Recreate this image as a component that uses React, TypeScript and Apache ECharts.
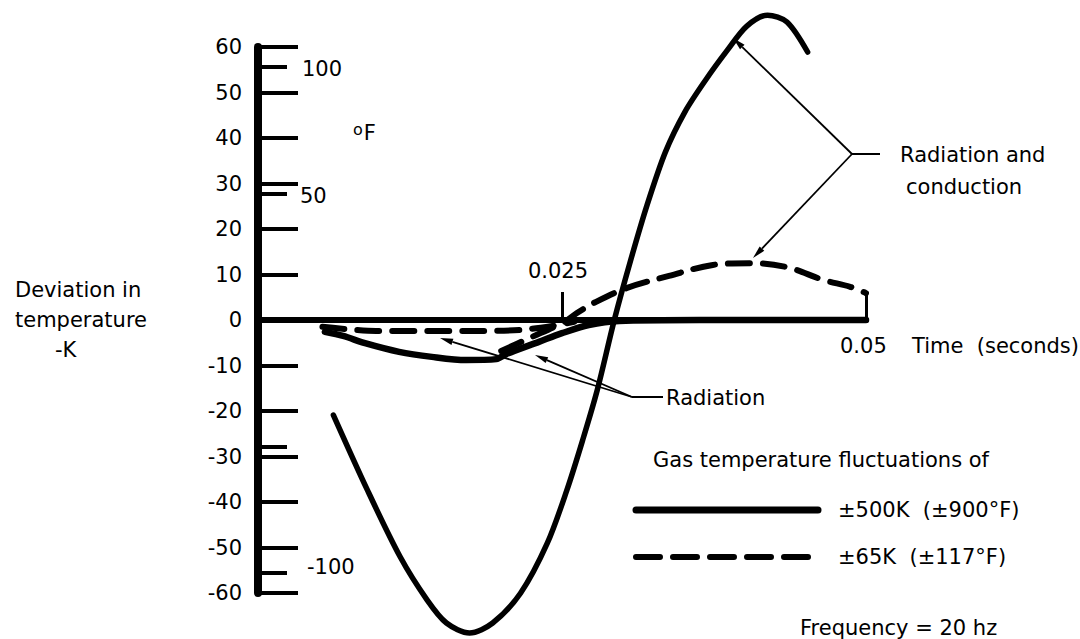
import React, { useEffect, useRef } from "react";
import * as echarts from "echarts";

const FONT = '"DejaVu Sans", "Liberation Sans", Arial, sans-serif';

// Axes
const timeMin = 0;
const timeMax = 0.05;
const timeStep = 0.025;
const kMin = -60;
const kMax = 60;
const kStep = 10;
const fMin = -108; // °F equivalent of -60 K deviation
const fMax = 108;
const fTickValues = [100, 50, -50, -100];

// ±500 K, radiation and conduction (solid)
const solidRadCondTime = [0.0062, 0.009, 0.0117, 0.0139, 0.0155, 0.0174, 0.0193, 0.0216, 0.0238, 0.0254, 0.0267, 0.0279, 0.0293, 0.0306, 0.032, 0.0335, 0.0351, 0.0368, 0.0386, 0.0402, 0.0419, 0.0435, 0.0452];
const solidRadCondK = [-20.9, -37.4, -52.1, -61.5, -66.6, -68.8, -66.6, -60.0, -49.0, -37.4, -26.4, -15.4, 0, 12.7, 25.3, 36.9, 45.7, 52.7, 59.3, 64.6, 67.0, 65.5, 58.9];

// ±500 K, radiation only (solid)
const solidRadTime = [0.0055, 0.007, 0.0088, 0.0116, 0.0143, 0.0171, 0.0196, 0.0204, 0.0231, 0.025, 0.0272, 0.0297, 0.0363, 0.0446, 0.05];
const solidRadK = [-2.6, -3.5, -5.1, -7.0, -8.1, -8.8, -8.6, -7.5, -4.8, -2.9, -1.1, -0.2, 0, 0, 0];

// ±65 K, radiation only (dashed)
const dashedRadTime = [0.0053, 0.0097, 0.014, 0.0182, 0.0215, 0.0242, 0.026];
const dashedRadK = [-1.5, -2.4, -2.4, -2.4, -2.2, -1.3, -0.4];

// ±65 K, radiation and conduction (dashed)
const dashedRadCondTime = [0.02, 0.0223, 0.0252, 0.0262, 0.0278, 0.0303, 0.0338, 0.0374, 0.0404, 0.0435, 0.0465, 0.0487, 0.05];
const dashedRadCondK = [-6.8, -4.0, -0.4, 1.5, 4.0, 7.0, 9.7, 12.1, 12.5, 11.6, 8.8, 7.3, 5.9];

const zip = (a: number[], b: number[]) => a.map((v, i) => [v, b[i]]);

function arrow(x1: number, y1: number, x2: number, y2: number) {
  const ang = Math.atan2(y2 - y1, x2 - x1);
  const len = 13;
  const hw = 3.2;
  const bx = x2 - len * Math.cos(ang);
  const by = y2 - len * Math.sin(ang);
  const px = -Math.sin(ang) * hw;
  const py = Math.cos(ang) * hw;
  return [
    { type: "line", shape: { x1, y1, x2: bx, y2: by }, style: { stroke: "#000", lineWidth: 1.8 } },
    { type: "polygon", shape: { points: [[x2, y2], [bx + px, by + py], [bx - px, by - py]] }, style: { fill: "#000" } },
  ];
}

function txt(text: string, x: number, y: number, size = 21, align = "left") {
  return {
    type: "text",
    x,
    y,
    style: { text, fill: "#000", font: `${size}px ${FONT}`, textAlign: align, textVerticalAlign: "middle" },
  };
}

export default function App() {
  const ref = useRef<HTMLDivElement>(null);
  useEffect(() => {
    document.body.style.margin = "0";
    const chart = echarts.init(ref.current!, null, { renderer: "svg" });
    const solidLine = { color: "#000", width: 5.5, cap: "round", join: "round" };
    const dashedLine = { color: "#000", width: 6, type: [22, 13], cap: "round", join: "round" };
    chart.setOption({
      animation: false,
      backgroundColor: "#fff",
      grid: { left: 258, top: 47, width: 608, height: 546 },
      xAxis: {
        type: "value",
        min: timeMin,
        max: timeMax,
        interval: timeStep,
        axisLine: { onZero: true, lineStyle: { color: "#000", width: 6 } },
        axisTick: { show: true, inside: true, length: 28, lineStyle: { color: "#000", width: 3 } },
        axisLabel: { show: false },
        splitLine: { show: false },
      },
      yAxis: [
        {
          type: "value",
          min: kMin,
          max: kMax,
          interval: kStep,
          position: "left",
          axisLine: { show: true, onZero: false, lineStyle: { color: "#000", width: 8 } },
          axisTick: { show: true, inside: true, length: 40, lineStyle: { color: "#000", width: 4 } },
          axisLabel: { color: "#000", fontSize: 21, fontFamily: FONT, margin: 16 },
          splitLine: { show: false },
        },
        {
          type: "value",
          min: fMin,
          max: fMax,
          position: "left",
          axisLine: { show: false, onZero: false },
          axisTick: { show: true, inside: true, length: 29, customValues: fTickValues, lineStyle: { color: "#000", width: 4 } },
          axisLabel: { show: false },
          splitLine: { show: false },
        },
      ],
      series: [
        { name: "±500K (±900°F)", type: "line", data: zip(solidRadCondTime, solidRadCondK), symbol: "none", smooth: 0.3, clip: false, lineStyle: solidLine, z: 3 },
        { name: "±500K radiation", type: "line", data: zip(solidRadTime, solidRadK), symbol: "none", smooth: 0.3, clip: false, lineStyle: { ...solidLine, width: 6.5 }, z: 3 },
        { name: "±65K radiation", type: "line", data: zip(dashedRadTime, dashedRadK), symbol: "none", smooth: 0.3, clip: false, lineStyle: dashedLine, z: 3 },
        { name: "±65K (±117°F)", type: "line", data: zip(dashedRadCondTime, dashedRadCondK), symbol: "none", smooth: 0.35, clip: false, lineStyle: dashedLine, z: 3 },
      ],
      graphic: [
        txt("Deviation in", 15, 290),
        txt("temperature", 15, 320),
        txt("-K", 55, 350),
        {
          type: "text",
          x: 353,
          y: 133,
          style: {
            text: "{o|o}F",
            fill: "#000",
            font: `21px ${FONT}`,
            textVerticalAlign: "middle",
            rich: { o: { fontSize: 16, fontFamily: FONT, padding: [0, 1, 7, 0] } },
          },
        },
        txt("100", 302, 69),
        txt("50", 300, 196),
        txt("-100", 307, 567),
        txt("0.025", 558, 271, 21, "center"),
        txt("0.05", 840, 346),
        txt("Time  (seconds)", 912, 346),
        txt("Radiation and", 900, 155),
        txt("conduction", 906, 187),
        txt("Radiation", 666, 398),
        txt("Gas temperature fluctuations of", 653, 460),
        txt("±500K  (±900°F)", 838, 510),
        txt("±65K  (±117°F)", 838, 557),
        txt("Frequency = 20 hz", 800, 628),
        { type: "line", shape: { x1: 852, y1: 154, x2: 880, y2: 154 }, style: { stroke: "#000", lineWidth: 2 } },
        ...arrow(852, 154, 733, 38),
        ...arrow(852, 154, 753, 258),
        { type: "line", shape: { x1: 632, y1: 397, x2: 663, y2: 397 }, style: { stroke: "#000", lineWidth: 2 } },
        ...arrow(632, 397, 440, 338),
        ...arrow(632, 397, 535, 355),
        { type: "line", shape: { x1: 636, y1: 510, x2: 818, y2: 510 }, style: { stroke: "#000", lineWidth: 7, lineCap: "round" } },
        { type: "line", shape: { x1: 636, y1: 557, x2: 818, y2: 557 }, style: { stroke: "#000", lineWidth: 6, lineCap: "round", lineDash: [24, 13] } },
      ],
    });
    return () => chart.dispose();
  }, []);
  return <div ref={ref} style={{ width: 1080, height: 639 }} />;
}
